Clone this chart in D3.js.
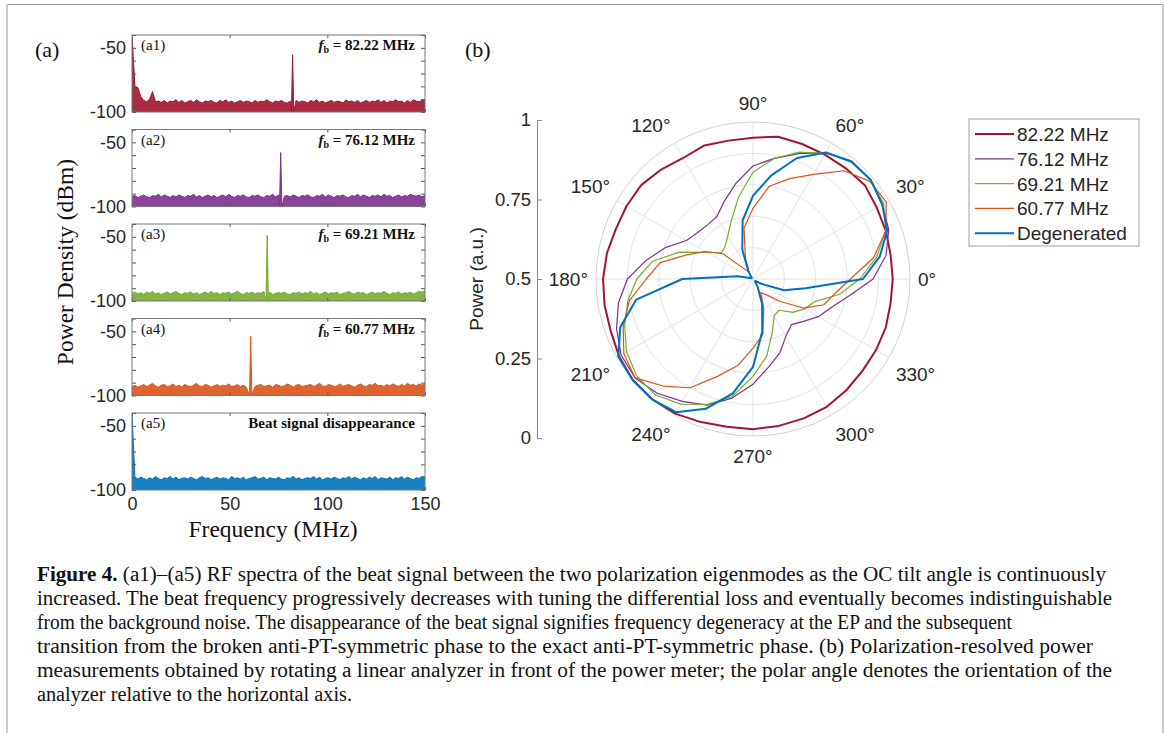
<!DOCTYPE html>
<html>
<head>
<meta charset="utf-8">
<script src="https://cdn.jsdelivr.net/npm/d3@7"></script>
<style>
  body { margin: 0; background: #fff; }
  .sans { font-family: "Liberation Sans", Arial, sans-serif; }
  .serif { font-family: "Liberation Serif", "Times New Roman", serif; }
</style>
</head>
<body>
<div id="fig"></div>
<script>
// ---- panel (a): RF spectra ----
const freqTicks = [0, 50, 100, 150];
const dbTicks = [-100, -90, -80, -70, -60, -50, -40];
const dbLabelled = [-100, -50];
const panelTags = ['(a1)', '(a2)', '(a3)', '(a4)', '(a5)'];
const beatFreqs = [82.22, 76.12, 69.21, 60.77, null];
const beatPeaks = [-55.5, -58, -49, -54, null];
const freqStep = 1.5; // MHz between noise samples

const noiseA1 = [
  -40, -80, -81, -88, -91, -92, -90, -84, -92, -91.5,
  -92.5, -91, -93, -91.5, -92, -90.5, -92.5, -91, -93, -92,
  -91, -92.5, -90.5, -92, -93, -91.5, -92, -91, -92.5, -93,
  -91, -92, -90.5, -92.5, -91.5, -93, -92, -91, -92.5, -91.5,
  -92, -93, -91, -92.5, -91.5, -92, -90.5, -92, -93, -91.5,
  -92, -91, -92.5, -93, -91.5, -92, -91, -92.5, -91.5, -92,
  -93, -91, -92, -90.5, -92.5, -91.5, -93, -92, -91, -92.5,
  -91.5, -92, -93, -90.5, -92, -91.5, -92.5, -91, -93, -92,
  -91, -92.5, -91.5, -92, -90.5, -92.5, -91, -93, -91.5, -92,
  -90.5, -92, -91.5, -93, -91, -92.5, -90.5, -91.5, -92, -91,
  -90.5];
const noiseA2 = [
  -92, -91.5, -93, -92, -91, -92.5, -93, -91.5, -92, -90.5,
  -92.5, -91, -92, -93, -91.5, -92.5, -91, -92, -93, -91.5,
  -92, -90.5, -92.5, -91.5, -93, -92, -91, -92.5, -91.5, -93,
  -92, -91, -92.5, -90.5, -92, -93, -91.5, -92, -91, -92.5,
  -93, -91.5, -92, -91, -92.5, -93, -91.5, -92, -90.5, -92.5,
  -91, -93, -92, -91.5, -92.5, -91, -92, -93, -91.5, -92,
  -91, -92.5, -93, -91.5, -92, -90.5, -92.5, -91, -92, -93,
  -91.5, -92, -91, -92.5, -93, -91.5, -92, -90.5, -92.5, -91,
  -92, -93, -91.5, -92, -91, -92.5, -90.5, -92, -91.5, -93,
  -92, -91, -92.5, -91.5, -92, -90.5, -91.5, -92, -91, -92.5,
  -91];
const noiseA3 = [
  -94, -93, -94.5, -93.5, -95, -93, -94, -92.5, -94.5, -93.5,
  -95, -94, -93, -94.5, -93.5, -92.5, -94, -95, -93.5, -94,
  -93, -94.5, -93.5, -95, -94, -93, -94.5, -92.5, -94, -93.5,
  -95, -93.5, -94, -93, -94.5, -93.5, -92.5, -94, -95, -93.5,
  -94, -93, -94.5, -93.5, -94, -92.5, -94.5, -93, -95, -94,
  -93.5, -94, -93, -94.5, -95, -93.5, -94, -93, -94.5, -93.5,
  -94, -92.5, -94.5, -93.5, -95, -94, -93, -94.5, -93.5, -94,
  -93, -95, -94, -93.5, -92.5, -94, -94.5, -93, -94, -93.5,
  -95, -94, -93, -94.5, -93.5, -94, -92.5, -94, -95, -93.5,
  -94, -93, -94.5, -93.5, -94, -93, -94.5, -93.5, -92.5, -93,
  -92];
const noiseA4 = [
  -93, -92, -93.5, -92.5, -91.5, -93, -92, -90.5, -92.5, -93.5,
  -92, -91.5, -93, -92.5, -91, -93, -92, -93.5, -91.5, -92.5,
  -93, -92, -90.5, -92.5, -93, -91.5, -92, -93.5, -92.5, -91.5,
  -93, -92, -92.5, -91, -93, -92.5, -91.5, -93, -92, -93.5,
  -91, -92.5, -93, -92, -91.5, -93, -92.5, -92, -93.5, -91.5,
  -92, -93, -92.5, -91, -92, -93.5, -92, -91.5, -93, -92.5,
  -92, -91.5, -93, -92, -90.5, -92.5, -93, -91.5, -92, -93,
  -92.5, -91, -93, -92, -91.5, -92.5, -93.5, -92, -91, -92.5,
  -93, -91.5, -92, -90.5, -92.5, -92, -93, -91.5, -92.5, -91,
  -92, -93, -91.5, -92.5, -90.5, -92, -91.5, -92.5, -91, -92,
  -90.5];
const noiseA5 = [
  -41, -90, -91.5, -90, -91, -92, -90.5, -91.5, -89.5, -91,
  -92, -90.5, -91, -89.5, -91.5, -90, -92, -91, -90.5, -91.5,
  -90, -91, -92, -90.5, -89.5, -91, -90.5, -92, -91, -90,
  -91.5, -90.5, -91, -92, -89.5, -91, -90.5, -91.5, -90, -92,
  -91, -90.5, -89.5, -91.5, -91, -90, -92, -90.5, -91, -91.5,
  -90, -91.5, -92, -90.5, -91, -89.5, -91.5, -90.5, -92, -91,
  -90.5, -91, -89.5, -91.5, -90, -92, -91, -90.5, -91.5, -90,
  -91, -92, -90.5, -91, -89.5, -91.5, -90, -91, -92, -90.5,
  -91.5, -90, -91, -89.5, -92, -90.5, -91, -91.5, -90, -92,
  -90.5, -91, -89.5, -91.5, -90, -91, -92, -90.5, -91, -89.5,
  -90];
const noiseLevels = [noiseA1, noiseA2, noiseA3, noiseA4, noiseA5];

// ---- panel (b): polarization-resolved power ----
const polarAngles = [0, 10, 20, 30, 40, 50, 60, 70, 80, 90, 100, 110,
  120, 130, 140, 150, 160, 170, 180, 190, 200, 210, 220, 230,
  240, 250, 260, 270, 280, 290, 300, 310, 320, 330, 340, 350];
const power8222 = [0.89, 0.89, 0.90, 0.91, 0.93, 0.92, 0.915, 0.915, 0.92, 0.90, 0.895, 0.905,
  0.89, 0.91, 0.93, 0.93, 0.93, 0.945, 0.955, 0.96, 0.965, 0.985, 1.0, 1.0,
  0.99, 0.97, 0.955, 0.957, 0.95, 0.945, 0.94, 0.925, 0.91, 0.905, 0.90, 0.89];
const power7612 = [0.765, 0.86, 0.92, 0.95, 0.98, 0.98, 0.93, 0.85, 0.78, 0.72, 0.62, 0.53,
  0.46, 0.45, 0.46, 0.49, 0.59, 0.69, 0.80, 0.87, 0.925, 0.97, 0.98, 0.95,
  0.90, 0.855, 0.77, 0.67, 0.57, 0.50, 0.42, 0.38, 0.42, 0.48, 0.53, 0.62];
const power6921 = [0.68, 0.80, 0.90, 0.96, 0.98, 0.98, 0.925, 0.86, 0.78, 0.68, 0.53, 0.40,
  0.32, 0.275, 0.26, 0.34, 0.50, 0.65, 0.74, 0.81, 0.87, 0.93, 0.965, 0.965,
  0.92, 0.85, 0.76, 0.62, 0.50, 0.36, 0.27, 0.26, 0.33, 0.38, 0.42, 0.56];
const power6077 = [0.62, 0.78, 0.90, 0.98, 0.97, 0.90, 0.77, 0.68, 0.60, 0.45, 0.33, 0.14,
  0.05, 0.08, 0.25, 0.35, 0.45, 0.60, 0.68, 0.80, 0.88, 0.95, 0.98, 0.89,
  0.80, 0.66, 0.56, 0.44, 0.36, 0.20, 0.10, 0.13, 0.22, 0.37, 0.48, 0.53];
const powerDegenerated = [0.70, 0.82, 0.91, 0.95, 0.98, 0.975, 0.93, 0.82, 0.67, 0.53, 0.38, 0.20,
  0.06, 0.02, 0.01, 0.01, 0.02, 0.10, 0.45, 0.755, 0.90, 0.99, 1.0, 1.0,
  0.98, 0.88, 0.74, 0.56, 0.34, 0.17, 0.06, 0.02, 0.02, 0.06, 0.21, 0.34];
const seriesNames = ['82.22 MHz', '76.12 MHz', '69.21 MHz', '60.77 MHz', 'Degenerated'];
const seriesPower = [power8222, power7612, power6921, power6077, powerDegenerated];
const powerTicks = [0, 0.25, 0.5, 0.75, 1];
const angleTicks = [0, 30, 60, 90, 120, 150, 180, 210, 240, 270, 300, 330];
const gridRadii = [0.2, 0.4, 0.6, 0.8, 1];

const captionLines = [
  '(a1)–(a5) RF spectra of the beat signal between the two polarization eigenmodes as the OC tilt angle is continuously',
  'increased. The beat frequency progressively decreases with tuning the differential loss and eventually becomes indistinguishable',
  'from the background noise. The disappearance of the beat signal signifies frequency degeneracy at the EP and the subsequent',
  'transition from the broken anti-PT-symmetric phase to the exact anti-PT-symmetric phase. (b) Polarization-resolved power',
  'measurements obtained by rotating a linear analyzer in front of the power meter; the polar angle denotes the orientation of the',
  'analyzer relative to the horizontal axis.'
];

// styles
const colors = ['#A2142F', '#7E2F8E', '#77AC30', '#D95319', '#0072BD'];
const widths = [2, 1.2, 1.2, 1.2, 2];
const textColor = '#262626';

let width = 1167, height = 733;
let svg = d3.select('#fig').append('svg')
    .attr('width', width)
    .attr('height', height);

// page frame
svg.append('line').attr('x1', 7).attr('x2', 1163).attr('y1', 4.5).attr('y2', 4.5)
    .attr('stroke', '#999').attr('stroke-width', 1);
svg.append('line').attr('x1', 7).attr('x2', 7).attr('y1', 4).attr('y2', height)
    .attr('stroke', '#ccc').attr('stroke-width', 2);
svg.append('line').attr('x1', 1163).attr('x2', 1163).attr('y1', 4).attr('y2', height)
    .attr('stroke', '#ccc').attr('stroke-width', 2);

// ---------- (a) spectra ----------
let specLeft = 132, specRight = 425, specH = 77;
let panelTops = [35, 129.5, 224, 318.5, 413];
let x = d3.scaleLinear().domain([0, 150]).range([specLeft, specRight]);

svg.append('text').attr('class', 'serif')
    .attr('x', 35).attr('y', 57)
    .attr('font-size', 22).attr('fill', '#111')
    .text('(a)');

panelTops.forEach((top, i) => {
    let y = d3.scaleLinear().domain([-100, -40]).range([top + specH, top]);
    let g = svg.append('g');

    g.append('clipPath').attr('id', 'clip' + i)
        .append('rect')
        .attr('x', specLeft).attr('y', top)
        .attr('width', specRight - specLeft).attr('height', specH);

    let pts = noiseLevels[i].map((v, k) => ({f: k * freqStep, v: v}));
    if (beatFreqs[i] !== null) {
        let fb = beatFreqs[i];
        pts = pts.filter(p => Math.abs(p.f - fb) > 0.8);
        pts.push({f: fb - 0.6, v: -100}, {f: fb, v: beatPeaks[i]}, {f: fb + 0.6, v: -100});
        pts.sort((a, b) => a.f - b.f);
    }

    let area = d3.area()
        .x(d => x(d.f))
        .y0(y(-100))
        .y1(d => y(d.v));
    let line = d3.line()
        .x(d => x(d.f))
        .y(d => y(d.v));

    let plot = g.append('g').attr('clip-path', `url(#clip${i})`);
    plot.append('path')
        .datum(pts)
        .attr('d', area)
        .attr('fill', colors[i])
        .attr('fill-opacity', 0.9);
    plot.append('path')
        .datum(pts)
        .attr('d', line)
        .attr('fill', 'none')
        .attr('stroke', colors[i])
        .attr('stroke-width', 1);

    // axes
    let yAxis = d3.axisLeft(y)
        .tickValues(dbTicks)
        .tickSizeInner(-4)
        .tickSizeOuter(0)
        .tickPadding(6)
        .tickFormat(d => dbLabelled.includes(d) ? String(d) : '');
    let yAxisR = d3.axisRight(y)
        .tickValues(dbTicks)
        .tickSizeInner(-4)
        .tickSizeOuter(0)
        .tickFormat('');
    let xAxis = d3.axisBottom(x)
        .tickValues(freqTicks)
        .tickSizeInner(-3)
        .tickSizeOuter(0)
        .tickPadding(7)
        .tickFormat(d => i === 4 ? String(d) : '');
    let xAxisT = d3.axisTop(x)
        .tickValues(freqTicks)
        .tickSizeInner(-3)
        .tickSizeOuter(0)
        .tickFormat('');

    let axes = [
        g.append('g').attr('transform', `translate(${specLeft},0)`).call(yAxis),
        g.append('g').attr('transform', `translate(${specRight},0)`).call(yAxisR),
        g.append('g').attr('transform', `translate(0,${top + specH})`).call(xAxis),
        g.append('g').attr('transform', `translate(0,${top})`).call(xAxisT)
    ];
    axes.forEach(a => {
        a.select('.domain').remove();
        a.selectAll('line').attr('stroke', '#555');
        a.selectAll('text').attr('class', 'sans').attr('font-size', 18).attr('fill', textColor);
    });

    g.append('rect')
        .attr('x', specLeft).attr('y', top)
        .attr('width', specRight - specLeft).attr('height', specH)
        .attr('fill', 'none').attr('stroke', '#777').attr('stroke-width', 1);

    g.append('text').attr('class', 'serif')
        .attr('x', specLeft + 9).attr('y', top + 15)
        .attr('font-size', 15).attr('fill', '#111')
        .text(panelTags[i]);

    let note = g.append('text').attr('class', 'serif')
        .attr('x', specRight - 10).attr('y', top + 15)
        .attr('text-anchor', 'end')
        .attr('font-size', 15).attr('font-weight', 'bold').attr('fill', '#111');
    if (beatFreqs[i] !== null) {
        note.append('tspan').attr('font-style', 'italic').text('f');
        note.append('tspan').attr('font-size', 10).attr('dy', 3).text('b');
        note.append('tspan').attr('dy', -3).text(' = ' + beatFreqs[i].toFixed(2) + ' MHz');
    } else {
        note.text('Beat signal disappearance');
    }
});

svg.append('text').attr('class', 'serif')
    .attr('transform', 'translate(73,262) rotate(-90)')
    .attr('text-anchor', 'middle')
    .attr('font-size', 23.5).attr('fill', '#111')
    .text('Power Density (dBm)');

svg.append('text').attr('class', 'serif')
    .attr('x', 273).attr('y', 537)
    .attr('text-anchor', 'middle')
    .attr('font-size', 23.5).attr('fill', '#111')
    .text('Frequency (MHz)');

// ---------- (b) polar ----------
svg.append('text').attr('class', 'serif')
    .attr('x', 465).attr('y', 57)
    .attr('font-size', 22).attr('fill', '#111')
    .text('(b)');

let cx = 753, cy = 279, R = 157;
let r = d3.scaleLinear().domain([0, 1]).range([0, R]);
let toRad = deg => (90 - deg) * Math.PI / 180;

let polar = svg.append('g').attr('transform', `translate(${cx},${cy})`);

polar.selectAll('.grid-circle')
    .data(gridRadii)
    .enter().append('circle')
    .attr('class', 'grid-circle')
    .attr('r', d => r(d))
    .attr('fill', 'none')
    .attr('stroke', d => d === 1 ? '#d0d0d0' : '#e2e2e2')
    .attr('stroke-width', 1);

polar.selectAll('.spoke')
    .data(angleTicks)
    .enter().append('line')
    .attr('class', 'spoke')
    .attr('x1', 0).attr('y1', 0)
    .attr('x2', d => r(1) * Math.cos(d * Math.PI / 180))
    .attr('y2', d => -r(1) * Math.sin(d * Math.PI / 180))
    .attr('stroke', '#e2e2e2')
    .attr('stroke-width', 1);

let labR = 165;
polar.selectAll('.angle-label')
    .data(angleTicks)
    .enter().append('text')
    .attr('class', 'sans angle-label')
    .attr('font-size', 19)
    .attr('fill', textColor)
    .attr('x', d => labR * Math.cos(d * Math.PI / 180))
    .attr('y', d => {
        let s = Math.sin(d * Math.PI / 180);
        let py = -labR * s;
        if (s > 0.01) return py - 4;
        if (s < -0.01) return py + 19;
        return py + 7;
    })
    .attr('text-anchor', d => {
        let c = Math.cos(d * Math.PI / 180);
        return c > 0.01 ? 'start' : (c < -0.01 ? 'end' : 'middle');
    })
    .text(d => d + '°');

let radial = d3.lineRadial()
    .angle(d => toRad(d.angle))
    .radius(d => r(d.p))
    .curve(d3.curveLinearClosed);

seriesPower.forEach((vals, i) => {
    let pts = polarAngles.map((a, k) => ({angle: a, p: vals[k]}));
    polar.append('path')
        .datum(pts)
        .attr('d', radial)
        .attr('fill', 'none')
        .attr('stroke', colors[i])
        .attr('stroke-width', widths[i])
        .attr('stroke-linejoin', 'round');
});

// radial power axis on the left
let py = d3.scaleLinear().domain([0, 1]).range([cy + R + 2, cy - R - 2]);
let pAxis = d3.axisLeft(py)
    .tickValues(powerTicks)
    .tickSizeInner(-5)
    .tickSizeOuter(0)
    .tickPadding(6)
    .tickFormat(d3.format('~g'));
let pAxisG = svg.append('g')
    .attr('transform', 'translate(537,0)')
    .call(pAxis);
pAxisG.select('.domain').attr('stroke', '#888');
pAxisG.selectAll('line').attr('stroke', '#888');
pAxisG.selectAll('text').attr('class', 'sans').attr('font-size', 18.5).attr('fill', textColor);

svg.append('text').attr('class', 'sans')
    .attr('transform', `translate(483,${cy}) rotate(-90)`)
    .attr('text-anchor', 'middle')
    .attr('font-size', 19).attr('fill', textColor)
    .text('Power (a.u.)');

// legend
let lgX = 969, lgY = 119, lgW = 170, lgH = 127;
let legend = svg.append('g');
legend.append('rect')
    .attr('x', lgX).attr('y', lgY)
    .attr('width', lgW).attr('height', lgH)
    .attr('fill', '#fff').attr('stroke', '#a0a0a0').attr('stroke-width', 1);

let items = legend.selectAll('.lg-item')
    .data(seriesNames)
    .enter().append('g')
    .attr('class', 'lg-item')
    .attr('transform', (d, i) => `translate(${lgX}, ${lgY + 15 + i * 24.8})`);
items.append('line')
    .attr('x1', 6).attr('x2', 45)
    .attr('stroke', (d, i) => colors[i])
    .attr('stroke-width', (d, i) => widths[i]);
items.append('text').attr('class', 'sans')
    .attr('x', 48).attr('y', 7)
    .attr('font-size', 19).attr('fill', textColor)
    .text(d => d);

// ---------- caption ----------
let capRight = [1106, 1112, 1012, 1093, 1112, 352];
let cap = svg.append('g');
captionLines.forEach((t, i) => {
    let txt = cap.append('text').attr('class', 'serif')
        .attr('x', 37).attr('y', 581 + i * 24)
        .attr('font-size', 20).attr('fill', '#111')
        .attr('textLength', capRight[i] - 37)
        .attr('lengthAdjust', 'spacingAndGlyphs');
    if (i === 0) {
        txt.append('tspan').attr('font-weight', 'bold').text('Figure 4.');
        txt.append('tspan').text(' ' + t);
    } else {
        txt.text(t);
    }
});
</script>
</body>
</html>
